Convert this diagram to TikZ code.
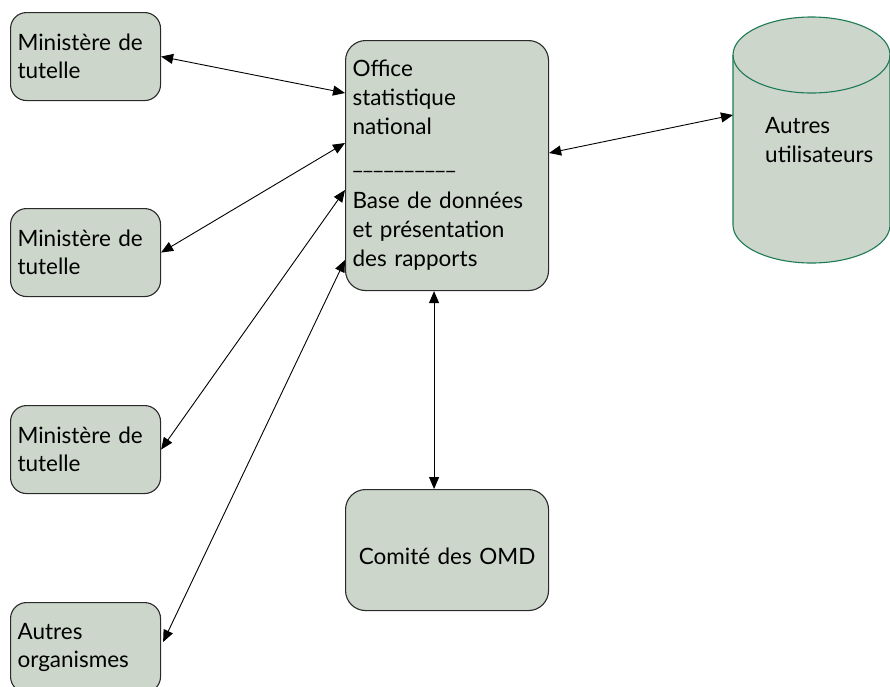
\documentclass[tikz,border=0pt]{standalone}
\usepackage{fontspec}
\setmainfont{Lato}
\usetikzlibrary{arrows.meta,calc}
\definecolor{boxfill}{HTML}{CCD6CB}
\definecolor{cylline}{HTML}{1E7A55}
\definecolor{edge}{HTML}{2A2A2A}
\begin{document}
\begin{tikzpicture}[x=1pt,y=-1pt,
  box/.style={draw=edge, fill=boxfill, line width=1.1pt, rounded corners=16pt,
    inner xsep=7pt, inner ysep=0pt, align=left, anchor=north west,
    font=\fontsize{22.5}{28}\selectfont},
  link/.style={{Triangle[length=12pt,width=10pt]}-{Triangle[length=12pt,width=10pt]},
    line width=0.9pt, black}]
\useasboundingbox (0,0) rectangle (890,686);
\node[box, text width=136pt, minimum height=88pt] (m1) at (10,12) {Ministère de\\tutelle};
\node[box, text width=136pt, minimum height=88pt] (m2) at (10,208) {Ministère de\\tutelle};
\node[box, text width=136pt, minimum height=88pt] (m3) at (10,405) {Ministère de\\tutelle};
\node[box, text width=136pt, minimum height=90pt] (m4) at (10,602) {Autres\\organismes};
\node[box, text width=189pt, minimum height=250pt, rounded corners=20pt,
  font=\fontsize{22.5}{29}\selectfont] (office) at (345,40)
  {Office\\statistique\\national\\[6pt]\_\_\_\_\_\_\_\_\_\_\\[10pt]Base de données\\et présentation\\des rapports};
\node[box, text width=189pt, minimum height=121pt, rounded corners=20pt, align=center,
  text height=30pt] (comite) at (345,489) {Comité des OMD};
% cylinder
\fill[boxfill] (733,55) -- (733,225) arc[start angle=180, end angle=0, x radius=78.5, y radius=38] -- (890,55) -- cycle;
\fill[boxfill] (811.5,55) ellipse[x radius=78.5, y radius=38];
\draw[cylline, line width=1.1pt] (733,55) -- (733,225) arc[start angle=180, end angle=0, x radius=78.5, y radius=38] -- (890,55);
\draw[cylline, line width=1.1pt] (811.5,55) ellipse[x radius=78.5, y radius=38];
\node[anchor=north west, align=left, inner sep=0pt, font=\fontsize{22.5}{29}\selectfont] (cyltext) at (765,117) {Autres\\utilisateurs};
\coordinate (cylw) at (733,115);
% connectors
\draw[link] (m1.east) -- ($(office.north west)+(0,53)$);
\draw[link] (m2.east) -- ($(office.north west)+(0,103)$);
\draw[link] (m3.east) -- ($(office.north west)+(0,150)$);
\draw[link] ($(m4.north east)+(2,40)$) -- ($(office.north west)+(0,220)$);
\draw[link] ($(office.north east)+(0,113)$) -- (cylw);
\draw[link] ($(office.south)+(-13,0)$) -- ($(comite.north)+(-13,0)$);
\end{tikzpicture}
\end{document}
